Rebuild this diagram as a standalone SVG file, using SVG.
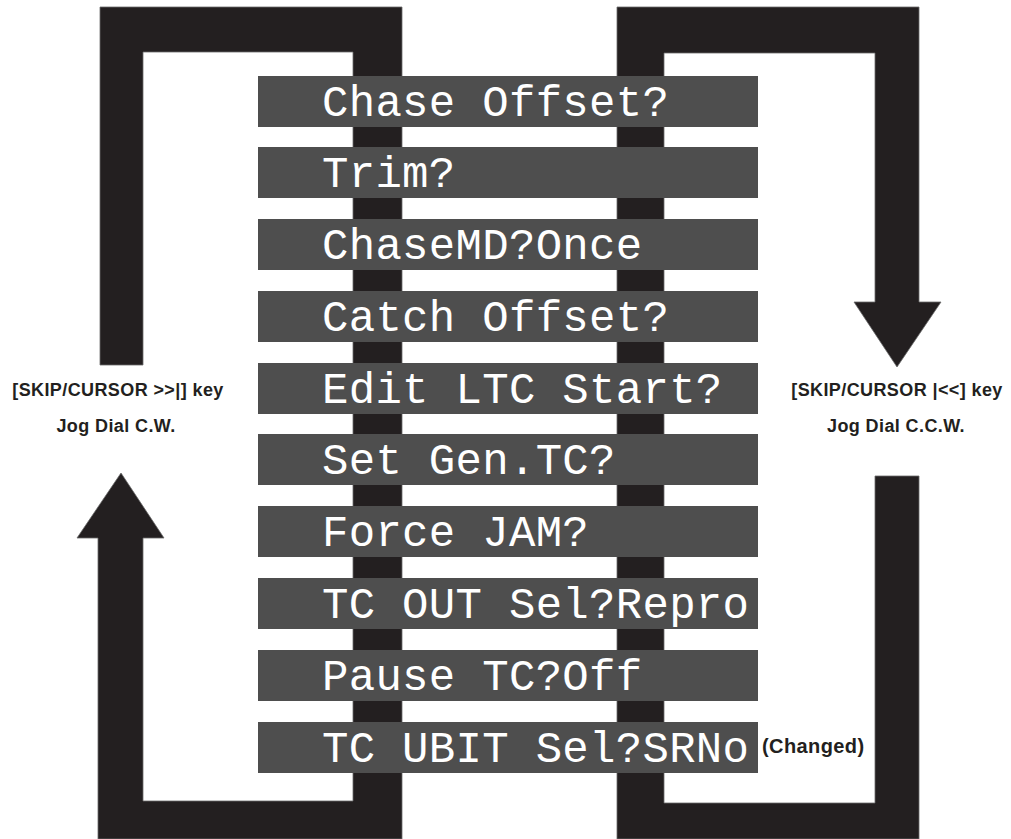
<svg xmlns="http://www.w3.org/2000/svg" width="1011" height="839" viewBox="0 0 1011 839">
  <style>
    .loop { fill: #231f20; stroke: #6a6a6a; stroke-width: 0.8; }
    .screen { fill: #4e4e4e; }
    .lcd { font-family: "Liberation Mono", "DejaVu Sans Mono", monospace; font-size: 44px; fill: #ffffff; letter-spacing: 0.3px; }
    .lbl { font-family: "Liberation Sans", Arial, sans-serif; font-weight: bold; font-size: 18px; fill: #231f20; letter-spacing: 0.4px; }
  </style>
  <rect x="0" y="0" width="1011" height="839" fill="#ffffff"/>
  <g id="connectors">
    <path id="loop-left" class="loop" d="M100,365 L100,7 L402,7 L402,839 L98,839 L98,538 L77,538 L121,473 L164,538 L143,538 L143,801 L353,801 L353,52 L143,52 L143,365 Z"/>
    <path id="loop-right" class="loop" d="M617,839 L617,7 L919,7 L919,302 L941,302 L897,367 L854,302 L875,302 L875,53 L664,53 L664,803 L875,803 L875,476 L919,476 L919,839 Z"/>
  </g>
  <g id="node-chase-offset"><rect class="screen" x="258" y="76" width="500" height="51"/><text class="lcd" x="322" y="116">Chase Offset?</text></g>
  <g id="node-trim"><rect class="screen" x="258" y="147" width="500" height="51"/><text class="lcd" x="322" y="187">Trim?</text></g>
  <g id="node-chasemd"><rect class="screen" x="258" y="219" width="500" height="51"/><text class="lcd" x="322" y="259">ChaseMD?Once</text></g>
  <g id="node-catch-offset"><rect class="screen" x="258" y="291" width="500" height="51"/><text class="lcd" x="322" y="331">Catch Offset?</text></g>
  <g id="node-edit-ltc"><rect class="screen" x="258" y="363" width="500" height="51"/><text class="lcd" x="322" y="403">Edit LTC Start?</text></g>
  <g id="node-set-gen"><rect class="screen" x="258" y="434" width="500" height="51"/><text class="lcd" x="322" y="474">Set Gen.TC?</text></g>
  <g id="node-force-jam"><rect class="screen" x="258" y="506" width="500" height="51"/><text class="lcd" x="322" y="546">Force JAM?</text></g>
  <g id="node-tc-out"><rect class="screen" x="258" y="578" width="500" height="51"/><text class="lcd" x="322" y="618">TC OUT Sel?Repro</text></g>
  <g id="node-pause-tc"><rect class="screen" x="258" y="650" width="500" height="51"/><text class="lcd" x="322" y="690">Pause TC?Off</text></g>
  <g id="node-tc-ubit"><rect class="screen" x="258" y="722" width="500" height="51"/><text class="lcd" x="322" y="762">TC UBIT Sel?SRNo</text></g>
  <g id="labels">
    <text class="lbl" x="118" y="396" text-anchor="middle">[SKIP/CURSOR &gt;&gt;|] key</text>
    <text class="lbl" x="116" y="432" text-anchor="middle">Jog Dial C.W.</text>
    <text class="lbl" x="897" y="396" text-anchor="middle">[SKIP/CURSOR |&lt;&lt;] key</text>
    <text class="lbl" x="896" y="432" text-anchor="middle">Jog Dial C.C.W.</text>
    <text class="lbl" x="762" y="753" style="font-size:20px">(Changed)</text>
  </g>
</svg>
